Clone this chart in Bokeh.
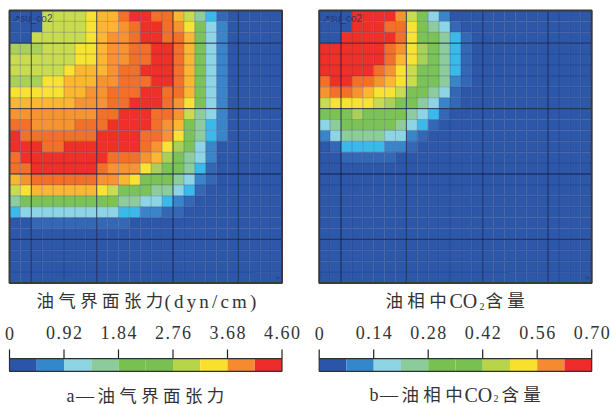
from bokeh.plotting import figure
from bokeh.layouts import row
from bokeh.models import Range1d
from bokeh.core.properties import value
from bokeh.embed import file_html
from bokeh.resources import INLINE

palette = {"A": "#2d57a9", "a": "#3468b6", "B": "#3a84ca", "C": "#3bb9ea", "D": "#8dd5e4",
           "E": "#8dcc9c", "F": "#7bc356", "g": "#a8d05a", "G": "#c9dc50", "H": "#f8e234",
           "I": "#fcb732", "J": "#f79432", "K": "#f27029", "L": "#ee3029"}

tension_rows = [
    "AAAGGGGHIIKLLKKIGECaAAAAA", "AAAGGGGHIIJKLLKJHFDBAAAAA", "AAGGGGGHIJJKLLKKIFDBAAAAA",
    "gggGGGHHIJJKKLLKIFDBAAAAA", "GGGGGGHHIJJKKLLKIFDBAAAAA", "GGGGGHIIIJKKLLLKIFDBAAAAA",
    "gggHHIIIJJKKKLLKIFDBAAAAA", "HHHHHIIJJKKKLLKKIFDBAAAAA", "IIIIIIJJJKKLLLKJHFDBAAAAA",
    "JJJJJJJJKKLLLKKJGEDBAAAAA", "KKJJJJKKKLLLLKJIFECBAAAAA", "LKKKKKKKLLLLKKJHFECBAAAAA",
    "LLLKKLLLLLLLKJHgFDBAAAAAA", "KLLLLLLLLKKKJIgFEDBAAAAAA", "KKLLLLLLKJJJHgFFECaAAAAAA",
    "IJKKKKKKJJIHFFFEDBaAAAAAA", "GHIIIIIIHGFFFEEDCaAAAAAAA", "EFFFFFFFFFEEDDCBaAAAAAAAA",
    "CDDDDDDDDDCCBBaaAAAAAAAAA", "AAaaaaaaaaaAAAAAAAAAAAAAA", "AAAAAAAAAAAAAAAAAAAAAAAAA",
    "AAAAAAAAAAAAAAAAAAAAAAAAA", "AAAAAAAAAAAAAAAAAAAAAAAAA", "AAAAAAAAAAAAAAAAAAAAAAAAA",
    "AAAAAAAAAAAAAAAAAAAAAAAAA",
]
co2_rows = [
    "AAALLLLJGFDBAAAAAAAAAAAAA", "AAALLLKKHFEDaAAAAAAAAAAAA", "AALLLLLKHFFECaAAAAAAAAAAA",
    "LLLLLLKJHgFECaAAAAAAAAAAA", "LLLLLLKIHgFECaAAAAAAAAAAA", "LLLLLKJHGFFECaAAAAAAAAAAA",
    "KLLKKJIHGFFEBaAAAAAAAAAAA", "JKKJIHHGFFEDaAAAAAAAAAAAA", "GHHHHGgFFEDBaAAAAAAAAAAAA",
    "FFFgFFFFEDCaAAAAAAAAAAAAA", "DEFFFFFEDCaAAAAAAAAAAAAAA", "BDEEEEDDBaAAAAAAAAAAAAAAA",
    "AaCCCCBBaAAAAAAAAAAAAAAAA", "AAaaaaaAAAAAAAAAAAAAAAAAA", "AAAAAAAAAAAAAAAAAAAAAAAAA",
    "AAAAAAAAAAAAAAAAAAAAAAAAA", "AAAAAAAAAAAAAAAAAAAAAAAAA", "AAAAAAAAAAAAAAAAAAAAAAAAA",
    "AAAAAAAAAAAAAAAAAAAAAAAAA", "AAAAAAAAAAAAAAAAAAAAAAAAA", "AAAAAAAAAAAAAAAAAAAAAAAAA",
    "AAAAAAAAAAAAAAAAAAAAAAAAA", "AAAAAAAAAAAAAAAAAAAAAAAAA", "AAAAAAAAAAAAAAAAAAAAAAAAA",
    "AAAAAAAAAAAAAAAAAAAAAAAAA",
]

major_cols = [2, 8, 15, 21]
major_rows = [3, 9, 15, 21]
n_cells = 25

bar_colors = ["#2b55a8", "#3388cc", "#8ed5e3", "#8ccb9b", "#78c150",
              "#78c150", "#b8d448", "#f8e02c", "#f58a2f", "#ee2c2c"]

tension_ticks = [0, 0.92, 1.84, 2.76, 3.68, 4.60]
tension_tick_labels = ["0", "0.92", "1.84", "2.76", "3.68", "4.60"]
co2_ticks = [0, 0.14, 0.28, 0.42, 0.56, 0.70]
co2_tick_labels = ["0", "0.14", "0.28", "0.42", "0.56", "0.70"]

SERIF = value("Liberation Serif, 'Noto Sans CJK SC'")
INK = "#333333"
HAIR = "\u200a"
GAP = "\u2005"
CELL = 10.9


def spaced(s, sep=HAIR):
    return sep.join(s)


def panel(width, grid_left, rows, ticks, tick_labels, pieces):
    top_px, total_h = 10.0, 405
    x0 = -grid_left / CELL
    x1 = x0 + width / CELL
    y0 = -top_px / CELL
    y1 = y0 + total_h / CELL
    p = figure(width=width, height=total_h, toolbar_location=None, output_backend="svg",
               x_range=Range1d(x0, x1), y_range=Range1d(y1, y0), min_border=0)
    p.xaxis.visible = False
    p.yaxis.visible = False
    p.xgrid.visible = False
    p.ygrid.visible = False
    p.outline_line_color = None

    left, right, top, bottom, color = [], [], [], [], []
    for j, r in enumerate(rows):
        for i, c in enumerate(r):
            left.append(i); right.append(i + 1); top.append(j); bottom.append(j + 1)
            color.append(palette[c])
    p.quad(left=left, right=right, top=top, bottom=bottom, fill_color=color, line_color=None)

    inner = list(range(1, n_cells))
    p.segment(x0=inner, x1=inner, y0=[0] * len(inner), y1=[n_cells] * len(inner),
              line_color="#14205a", line_alpha=0.25, line_width=1)
    p.segment(x0=[0] * len(inner), x1=[n_cells] * len(inner), y0=inner, y1=inner,
              line_color="#14205a", line_alpha=0.25, line_width=1)
    p.segment(x0=major_cols, x1=major_cols, y0=[0] * 4, y1=[n_cells] * 4,
              line_color="#141a40", line_alpha=0.65, line_width=1)
    p.segment(x0=[0] * 4, x1=[n_cells] * 4, y0=major_rows, y1=major_rows,
              line_color="#141a40", line_alpha=0.75, line_width=1)
    p.quad(left=[0], right=[n_cells], top=[0], bottom=[n_cells], fill_color=None,
           line_color="#3a3a3a", line_width=2)

    p.text(x=[0.25], y=[0.75], text=["\u2197su_co2"], text_font_size="10px", text_color="#1f2f6e",
           text_alpha=0.85, text_baseline="middle", text_font=value("Liberation Sans"))
    p.text(x=[24.6], y=[24.5], text=["\u2248"], text_font_size="7px", text_color="#1f2f6e",
           text_baseline="middle", text_align="center")

    vmax = ticks[-1]
    to_x = [t / vmax * n_cells for t in ticks]
    seg = n_cells / len(bar_colors)
    bl = [k * seg for k in range(len(bar_colors))]
    br = [(k + 1) * seg for k in range(len(bar_colors))]
    bar_top, bar_bottom = 31.93, 33.1
    tick_top = 31.1
    p.quad(left=bl, right=br, top=[bar_top] * 10, bottom=[bar_bottom] * 10,
           fill_color=bar_colors, line_color=None)
    p.quad(left=[0], right=[n_cells], top=[bar_top], bottom=[bar_bottom], fill_color=None,
           line_color="#303030", line_width=1.2)
    p.segment(x0=to_x, x1=to_x, y0=[tick_top] * 6, y1=[bar_top] * 6, line_color="#202020",
              line_width=1.2)

    p.text(x=to_x, y=[29.6] * 6, text=[spaced(t) for t in tick_labels], text_font=SERIF,
           text_font_size="18px", text_color=INK, text_align="center", text_baseline="middle")

    for txt, px, ypx, size in pieces:
        p.text(x=[(px - grid_left) / CELL], y=[(ypx - top_px) / CELL], text=[txt], text_font=SERIF,
               text_font_size=size, text_color=INK, text_align="left", text_baseline="middle")
    return p


title_cn_a = GAP.join("油气界面张力")
title_cn_b = GAP.join("油相中")
tail_cn_b = GAP.join("含量")

# piece positions are relative to each figure's own left edge
pa = panel(306, 9.0, tension_rows, tension_ticks, tension_tick_labels, [
    (title_cn_a, 36, 300.5, "17.5px"),
    (spaced("(dyn/cm)", HAIR + HAIR), 164, 300.5, "19px"),
    (spaced("a—"), 66, 395, "18px"),
    (title_cn_a, 97, 395, "17.5px"),
])
pb = panel(305, 12.7, co2_rows, co2_ticks, co2_tick_labels, [
    (title_cn_b, 79, 300.5, "17.5px"),
    ("CO", 143, 300.5, "20px"),
    ("2", 173, 305.5, "10px"),
    (tail_cn_b, 179, 300.5, "17.5px"),
    (spaced("b—"), 63, 394.5, "18px"),
    (title_cn_b, 95, 394.5, "17.5px"),
    ("CO", 158, 394.5, "20px"),
    ("2", 187, 398, "10px"),
    (tail_cn_b, 195, 394.5, "17.5px"),
])

layout = row(pa, pb, spacing=0)
open("out.html", "w").write(file_html(layout, INLINE))
